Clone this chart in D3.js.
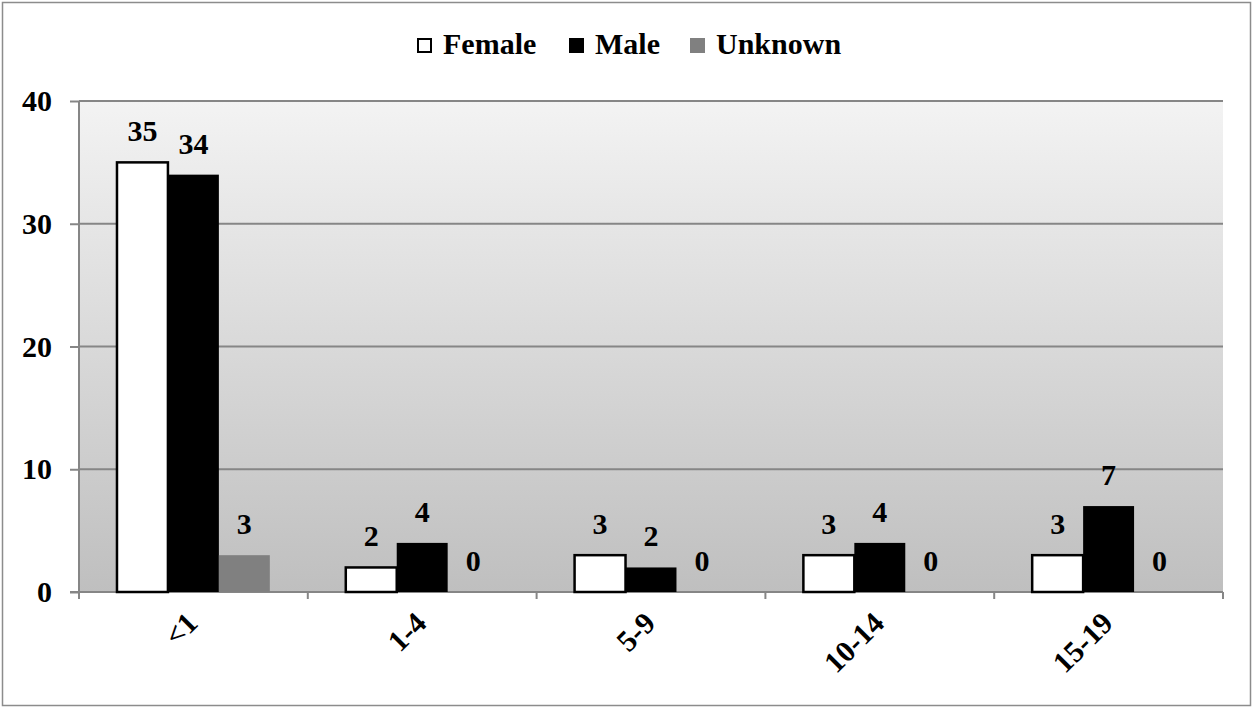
<!DOCTYPE html>
<html>
<head>
<meta charset="utf-8">
<script src="https://cdn.jsdelivr.net/npm/d3@7"></script>
<style>
  body { margin: 0; background: #fff; }
</style>
</head>
<body>
<div id="graph"></div>
<script>
// Data ////////////////////////////////////////////////////////////////////
const categories = ["<1", "1-4", "5-9", "10-14", "15-19"];
const seriesNames = ["Female", "Male", "Unknown"];
const female = [35, 2, 3, 3, 3];
const male = [34, 4, 2, 4, 7];
const unknown = [3, 0, 0, 0, 0];
const yTicks = [0, 10, 20, 30, 40];

// Constants ////////////////////////////////////////////////////////////////
const svgWidth = 1252;
const svgHeight = 707;
const margin = { top: 101, right: 29, bottom: 115, left: 79 };
const colors = { Female: "#ffffff", Male: "#000000", Unknown: "#808080" };
const fontSize = 30;
const fontFamily = "'Liberation Serif', 'Times New Roman', Times, serif";

const seriesData = seriesNames.map((name, i) => ({
  name,
  values: [female, male, unknown][i]
}));

const svg = d3
  .select("#graph")
  .append("svg")
  .attr("width", svgWidth)
  .attr("height", svgHeight);

// Outer border
svg
  .append("rect")
  .attr("x", 2.5)
  .attr("y", 2.5)
  .attr("width", svgWidth - 4)
  .attr("height", svgHeight - 4)
  .style("fill", "#fff")
  .style("stroke", "#8c8c8c")
  .style("stroke-width", 1.5);

// Gradient
const defs = svg.append("defs");
const grad = defs
  .append("linearGradient")
  .attr("id", "bg")
  .attr("x1", 0).attr("x2", 0)
  .attr("y1", 0).attr("y2", 1);
grad.append("stop").attr("offset", "0%").attr("stop-color", "#f3f3f3");
grad.append("stop").attr("offset", "100%").attr("stop-color", "#bfbfbf");

const innerW = svgWidth - margin.left - margin.right;
const innerH = svgHeight - margin.top - margin.bottom;

const chart = svg
  .append("g")
  .attr("transform", `translate(${margin.left}, ${margin.top})`);

function textStyle(sel) {
  sel
    .style("font-family", fontFamily)
    .style("font-weight", "bold")
    .style("font-size", fontSize + "px")
    .style("fill", "#000");
}

// Scales ///////////////////////////////////////////////////////////////////
const x0 = d3.scaleBand().domain(categories).range([0, innerW]).paddingInner(0.332).paddingOuter(0.166);
const x1 = d3.scaleBand().domain(seriesNames).range([0, x0.bandwidth()]);
const y = d3.scaleLinear().domain([0, 40]).range([innerH, 0]);

chart
  .append("rect")
  .attr("width", innerW)
  .attr("height", innerH)
  .style("fill", "url(#bg)");

// Gridlines
chart
  .selectAll(".grid")
  .data(yTicks.filter(d => d > 0))
  .join("line")
  .attr("class", "grid")
  .attr("x1", 0)
  .attr("x2", innerW)
  .attr("y1", d => y(d))
  .attr("y2", d => y(d))
  .style("stroke", "#868686")
  .style("stroke-width", 2);

// Y axis
const yAxis = chart
  .append("g")
  .call(d3.axisLeft(y).tickValues(yTicks).tickSize(9).tickPadding(18));
yAxis.attr("font-family", null).attr("font-size", null);
yAxis.select(".domain").remove();
yAxis.selectAll(".tick line").style("stroke", "#868686").style("stroke-width", 2);
yAxis.selectAll(".tick text").call(textStyle);
chart
  .append("line")
  .attr("x1", 0).attr("x2", 0)
  .attr("y1", 0).attr("y2", innerH + 7)
  .style("stroke", "#868686")
  .style("stroke-width", 2);

// X axis line and boundary ticks
chart
  .append("line")
  .attr("x1", -9).attr("x2", innerW)
  .attr("y1", innerH).attr("y2", innerH)
  .style("stroke", "#868686")
  .style("stroke-width", 2);

const step = x0.step();
chart
  .selectAll(".xtick")
  .data(d3.range(1, categories.length + 1))
  .join("line")
  .attr("class", "xtick")
  .attr("x1", d => d * step)
  .attr("x2", d => d * step)
  .attr("y1", innerH)
  .attr("y2", innerH + 7)
  .style("stroke", "#868686")
  .style("stroke-width", 2);

// X labels
chart
  .selectAll(".xlabel")
  .data(categories)
  .join("text")
  .attr("class", "xlabel")
  .attr("text-anchor", "end")
  .attr("transform", d => `translate(${x0(d) + x0.bandwidth() / 2 + 6}, ${innerH + 33}) rotate(-45)`)
  .call(textStyle)
  .text(d => d);

// Bars /////////////////////////////////////////////////////////////////////
const groups = chart
  .selectAll(".series")
  .data(seriesData)
  .join("g")
  .attr("class", "series");

groups
  .selectAll("rect")
  .data(s => s.values.map((v, i) => ({ name: s.name, cat: categories[i], v })))
  .join("rect")
  .attr("x", d => x0(d.cat) + x1(d.name))
  .attr("y", d => y(d.v))
  .attr("width", x1.bandwidth())
  .attr("height", d => innerH - y(d.v))
  .style("fill", d => colors[d.name])
  .style("stroke", d => (d.name === "Female" ? "#000" : "none"))
  .style("stroke-width", 2.5);

groups
  .selectAll(".vlabel")
  .data(s => s.values.map((v, i) => ({ name: s.name, cat: categories[i], v })))
  .join("text")
  .attr("class", "vlabel")
  .attr("text-anchor", "middle")
  .attr("x", d => x0(d.cat) + x1(d.name) + x1.bandwidth() / 2)
  .attr("y", d => y(d.v) - 21)
  .call(textStyle)
  .text(d => d.v);

// Legend ///////////////////////////////////////////////////////////////////
const legendX = [417, 569, 690];
const legend = svg
  .selectAll(".legend")
  .data(seriesNames)
  .join("g")
  .attr("class", "legend")
  .attr("transform", (d, i) => `translate(${legendX[i]}, 38)`);

legend
  .append("rect")
  .attr("x", d => (d === "Female" ? 1 : 0))
  .attr("y", d => (d === "Female" ? 1 : 0))
  .attr("width", d => (d === "Female" ? 13 : 15))
  .attr("height", d => (d === "Female" ? 13 : 15))
  .style("fill", d => colors[d])
  .style("stroke", d => (d === "Female" ? "#000" : "none"))
  .style("stroke-width", 2);

legend
  .append("text")
  .attr("x", 26)
  .attr("y", 16)
  .call(textStyle)
  .text(d => d);
</script>
</body>
</html>
